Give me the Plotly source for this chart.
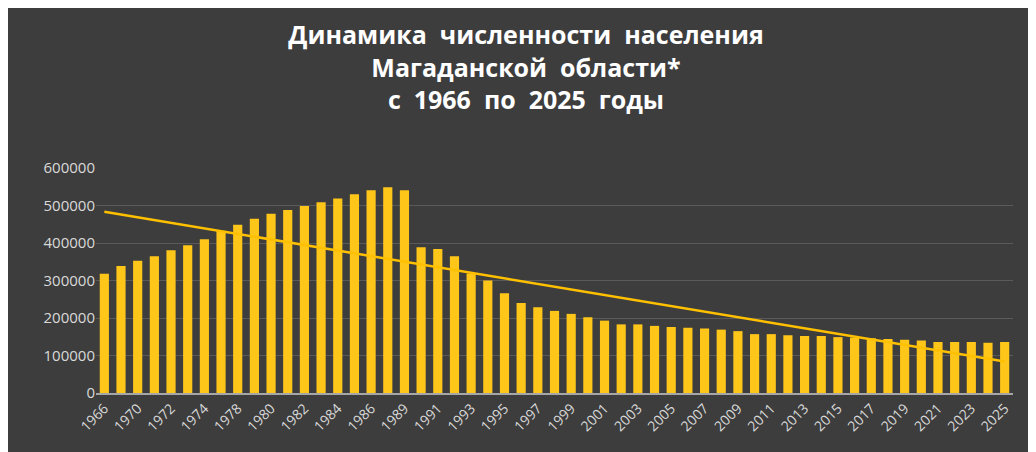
import numpy as np
import plotly.graph_objects as go

years = [1966, 1968, 1970, 1971, 1972, 1973, 1974, 1976, 1978, 1979, 1980, 1981, 1982, 1983,
         1984, 1985, 1986, 1987] + list(range(1989, 2026))
population = [318000, 339000, 353000, 365000, 381000, 394000, 410000, 433000, 449000, 465000,
              478000, 488000, 499000, 509000, 519000, 530000, 541000, 549000, 541000,
              389000, 384000, 365000, 319000, 300000, 266000, 240000, 229000, 219000, 211000,
              202000, 193000, 183000, 183000, 179000, 176000, 174000, 172000, 169000, 165000,
              157000, 157000, 154000, 152000, 152000, 149000, 148000, 146000, 144000, 142000,
              140000, 136000, 136000, 136000, 134000, 136000]
labels = [str(y) for y in years]
tick_labels = labels[::2]

idx = np.arange(len(population))
k, b = np.polyfit(idx, population, 1)
trend = k * idx + b

fig = go.Figure()
fig.add_bar(x=labels, y=population, marker=dict(color="#FFC61A", line=dict(width=0)),
            width=0.55)
fig.add_scatter(x=labels, y=trend, mode="lines", line=dict(color="#FFC000", width=2.5),
                hoverinfo="skip")
fig.update_layout(
    width=1036, height=452, showlegend=False,
    paper_bgcolor="#3d3d3d", plot_bgcolor="rgba(0,0,0,0)",
    margin=dict(l=88, r=31, t=160, b=67),
    title=dict(text="Динамика  численности  населения<br>Магаданской  области*<br>с  1966  по  2025  годы",
               x=0.5, xanchor="center", y=0.92, yanchor="top",
               font=dict(family="Open Sans", size=25, color="#FFFFFF", weight="bold")),
    font=dict(family="Open Sans", color="#D9D9D9"),
)
fig.update_xaxes(type="category", tickvals=tick_labels, ticktext=tick_labels, tickangle=-45,
                 tickfont=dict(size=14, color="#D9D9D9"), showgrid=False,
                 showline=True, linecolor="#A6A6A6", linewidth=1.5, ticks="")
fig.update_yaxes(range=[0, 600000], dtick=100000, tickformat="d",
                 tickfont=dict(size=15, color="#D9D9D9"), gridcolor="#5a5a5a",
                 zeroline=False, showline=False)
fig.write_html("out.html")
